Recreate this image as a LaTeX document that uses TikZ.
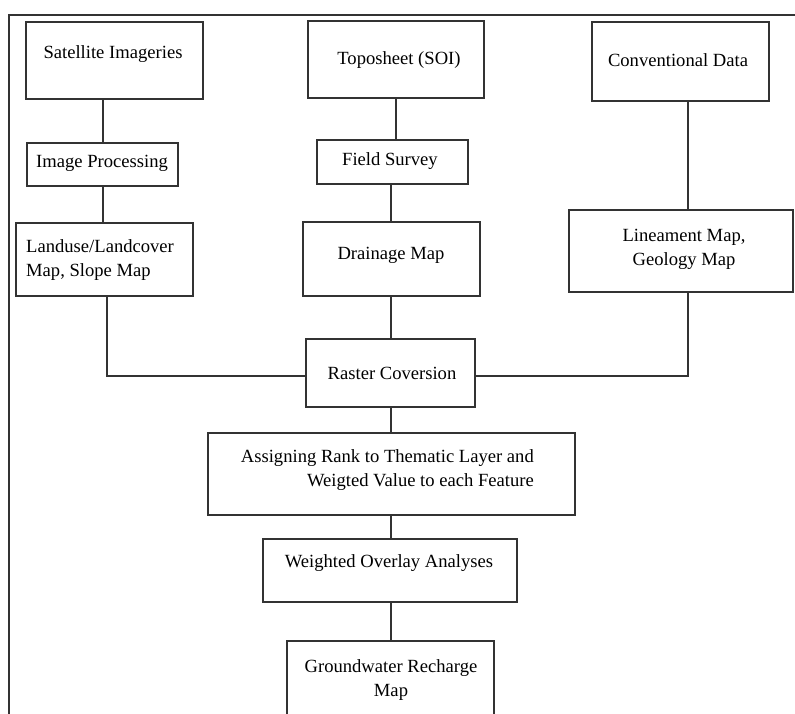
\documentclass[tikz,border=0pt]{standalone}
\usepackage{fontspec}
\setmainfont{Liberation Serif}
\begin{document}
\begin{tikzpicture}[x=1pt,y=-1pt,
  box/.style={draw=black!80, line width=1.4pt, fill=white, inner sep=0pt},
  txt/.style={font=\fontsize{18.6}{24}\selectfont, inner sep=0pt, text=black},
  link/.style={draw=black!80, line width=1.4pt}]
\useasboundingbox (0,0) rectangle (795,713);
\clip (0,0) rectangle (795,713);
\fill[white] (0,0) rectangle (795,713);
% frame
\draw[link] (800,15) -- (9,15) -- (9,720);
% boxes
\node[box, minimum width=177pt, minimum height=77pt] (sat) at (114.5,60.5) {};
\node[box, minimum width=151pt, minimum height=43pt] (imgp) at (102.5,164.5) {};
\node[box, minimum width=177pt, minimum height=73pt] (land) at (104.5,259.5) {};
\node[box, minimum width=176pt, minimum height=77pt] (topo) at (396,59.5) {};
\node[box, minimum width=151pt, minimum height=44pt] (field) at (392.5,162) {};
\node[box, minimum width=177pt, minimum height=74pt] (drain) at (391.5,259) {};
\node[box, minimum width=177pt, minimum height=79pt] (conv) at (680.5,61.5) {};
\node[box, minimum width=224pt, minimum height=82pt] (line) at (681,251) {};
\node[box, minimum width=169pt, minimum height=68pt] (rast) at (390.5,373) {};
\node[box, minimum width=367pt, minimum height=82pt] (assign) at (391.5,474) {};
\node[box, minimum width=254pt, minimum height=63pt] (wov) at (390,570.5) {};
\node[box, minimum width=207pt, minimum height=99pt] (gw) at (390.5,690.5) {};
% texts
\node[txt] (tsat) at (113,54) {Satellite Imageries};
\node[txt] (timgp) at (102,163) {Image Processing};
\node[txt, anchor=west, align=left] (tland) at (26,260) {Landuse/Landcover\\Map, Slope Map};
\node[txt] (ttopo) at (399,60) {Toposheet (SOI)};
\node[txt] (tfield) at (390,161) {Field Survey};
\node[txt] (tdrain) at (391,255) {Drainage Map};
\node[txt] (tconv) at (678,60) {Conventional Data};
\node[txt, align=center] (tline) at (684,249.5) {Lineament Map,\\Geology Map};
\node[txt] (trast) at (392,373) {Raster Coversion};
\node[txt, anchor=east, align=right] (tassign) at (534,470.5) {Assigning Rank to Thematic Layer and\\Weigted Value to each Feature};
\node[txt] (twov) at (389,563) {Weighted Overlay Analyses};
\node[txt, align=center] (tgw) at (391,680) {Groundwater Recharge\\Map};
% connectors
\coordinate (j1) at (107,376);
\coordinate (j2) at (688,376);
\coordinate (c1) at (391,0);
\coordinate (c0) at (103,0);
\draw[link] (sat.south -| c0) -- (imgp.north -| c0);
\draw[link] (imgp.south -| c0) -- (land.north -| c0);
\draw[link] (land.south -| j1) -- (j1) -- (j1 -| rast.west);
\draw[link] (topo.south) -- (topo.south |- field.north);
\draw[link] (field.south -| c1) -- (drain.north -| c1);
\draw[link] (drain.south -| c1) -- (rast.north -| c1);
\draw[link] (conv.south -| j2) -- (line.north -| j2);
\draw[link] (line.south -| j2) -- (j2) -- (j2 -| rast.east);
\draw[link] (rast.south -| c1) -- (assign.north -| c1);
\draw[link] (assign.south -| c1) -- (wov.north -| c1);
\draw[link] (wov.south -| c1) -- (gw.north -| c1);
\end{tikzpicture}
\end{document}
